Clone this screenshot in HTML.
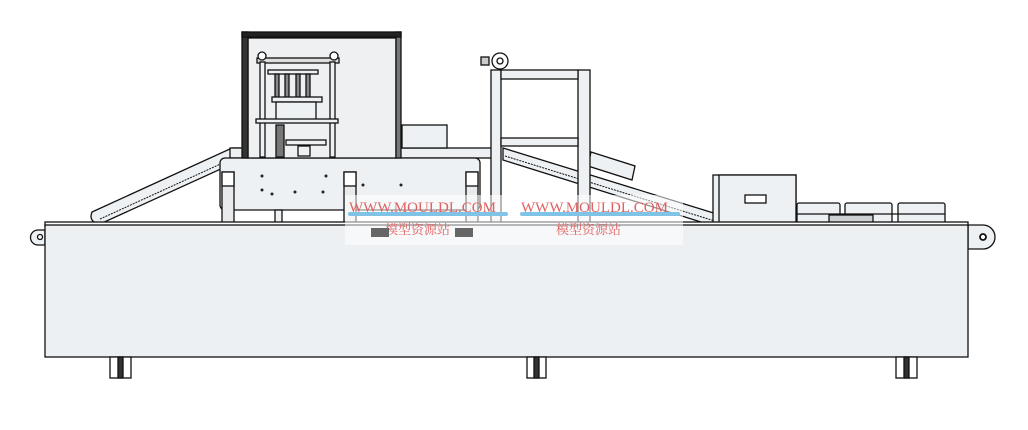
<!DOCTYPE html>
<html><head><meta charset="utf-8"><style>
html,body{margin:0;padding:0;background:#fff;}
svg{display:block;}
</style></head><body>
<svg width="1028" height="430" viewBox="0 0 1028 430" xmlns="http://www.w3.org/2000/svg" font-family="Liberation Serif, Noto Serif CJK SC, serif">
<g stroke="#111" stroke-width="1.3" fill="#eef1f4">
<path d="M92 212 L232 148 L245 148 L245 158 L100 224 Q88 222 92 212 Z"/>
<line x1="100" y1="219" x2="238" y2="156" stroke-dasharray="2 1" stroke-width="1"/>
<rect x="230" y="148" width="265" height="10"/>
<rect x="402" y="125" width="45" height="23"/>
<path d="M503 148 L720 215 L720 228 L503 160 Z"/>
<line x1="505" y1="156" x2="718" y2="222" stroke-dasharray="2 1" stroke-width="1"/>
<path d="M591 152 L635 166 L632 180 L588 166 Z"/>
<rect x="220" y="158" width="260" height="52" rx="5"/>
<rect x="248" y="38" width="148" height="120" fill="#eef0f2"/>
<rect x="242" y="32" width="6" height="126" fill="#333"/>
<rect x="396" y="32" width="5" height="126" fill="#777"/>
<rect x="242" y="32" width="159" height="5" fill="#222"/>
<rect x="257" y="58" width="82" height="5" fill="#ddd"/>
<circle cx="262" cy="56" r="4" fill="#fff"/><circle cx="334" cy="56" r="4" fill="#fff"/>
<rect x="260" y="62" width="5" height="95"/><rect x="330" y="62" width="5" height="95"/>
<rect x="268" y="70" width="50" height="4"/>
<rect x="275" y="74" width="4" height="24" fill="#888"/><rect x="285" y="74" width="4" height="24" fill="#888"/><rect x="296" y="74" width="4" height="24" fill="#888"/><rect x="306" y="74" width="4" height="24" fill="#888"/>
<rect x="272" y="97" width="50" height="5"/>
<rect x="276" y="102" width="40" height="18"/>
<rect x="256" y="119" width="82" height="4"/>
<rect x="276" y="125" width="8" height="32" fill="#777"/>
<rect x="286" y="140" width="40" height="5"/>
<rect x="298" y="146" width="12" height="10"/>
<rect x="222" y="172" width="12" height="52" fill="#e8eaec"/>
<rect x="344" y="172" width="12" height="52" fill="#e8eaec"/>
<rect x="466" y="172" width="12" height="52" fill="#e8eaec"/>
<rect x="222" y="172" width="12" height="14" fill="#fff"/>
<rect x="344" y="172" width="12" height="14" fill="#fff"/>
<rect x="466" y="172" width="12" height="14" fill="#fff"/>
<rect x="275" y="210" width="7" height="14"/>
<rect x="491" y="70" width="10" height="155"/>
<rect x="578" y="70" width="12" height="155"/>
<rect x="501" y="70" width="77" height="9"/>
<rect x="501" y="138" width="77" height="8"/>
<circle cx="500" cy="61" r="8" fill="#fff"/><circle cx="500" cy="61" r="3" fill="#fff"/>
<rect x="481" y="57" width="8" height="8" fill="#ccc"/>
<rect x="713" y="175" width="83" height="50"/>
<rect x="719" y="175" width="77" height="50"/>
<rect x="745" y="195" width="21" height="8" fill="#fff"/>
<rect x="797" y="203" width="43" height="20" rx="2"/>
<rect x="845" y="203" width="47" height="20" rx="2"/>
<rect x="898" y="203" width="47" height="20" rx="2"/>
<line x1="797" y1="214" x2="945" y2="214"/>
<rect x="829" y="215" width="44" height="8" fill="#ccd0d2"/>
<path d="M45 230 L38 230 A7 7 0 0 0 38 245 L45 245 Z"/>
<circle cx="40" cy="237" r="2.5" fill="#fff"/>
<path d="M968 225 L983 225 A12 12 0 0 1 983 249 L968 249 Z"/>
<circle cx="983" cy="237" r="3" fill="#fff" stroke-width="1.8"/>
<rect x="45" y="222" width="923" height="4" fill="#fff"/>
<rect x="45" y="225" width="923" height="132" fill="#edf0f3"/>
<rect x="110" y="357" width="21" height="21" fill="#fff"/>
<rect x="118" y="357" width="5" height="21" fill="#333"/>
<rect x="527" y="357" width="19" height="21" fill="#fff"/>
<rect x="534" y="357" width="5" height="21" fill="#333"/>
<rect x="896" y="357" width="21" height="21" fill="#fff"/>
<rect x="904" y="357" width="5" height="21" fill="#333"/>
</g>
<g fill="#222">
<circle cx="262" cy="176" r="1.5"/><circle cx="262" cy="190" r="1.5"/><circle cx="272" cy="194" r="1.5"/>
<circle cx="295" cy="192" r="1.5"/><circle cx="326" cy="176" r="1.5"/><circle cx="323" cy="192" r="1.5"/>
<circle cx="363" cy="185" r="1.5"/><circle cx="401" cy="185" r="1.5"/>
</g>
<rect x="345" y="195" width="338" height="50" fill="#ffffff" opacity="0.55"/>
<rect x="348" y="212" width="160" height="4" fill="#7fc3e6" rx="2"/>
<rect x="520" y="212" width="160" height="4" fill="#7fc3e6" rx="2"/>
<g fill="#e06060" font-size="15">
<text x="349" y="212">WWW.MOULDL.COM</text>
<text x="521" y="212">WWW.MOULDL.COM</text>
<text x="385" y="234" font-size="13">模型资源站</text>
<text x="556" y="234" font-size="13">模型资源站</text>
</g>
<rect x="371" y="228" width="18" height="9" fill="#666"/>
<rect x="455" y="228" width="18" height="9" fill="#666"/>
</svg>
</body></html>
